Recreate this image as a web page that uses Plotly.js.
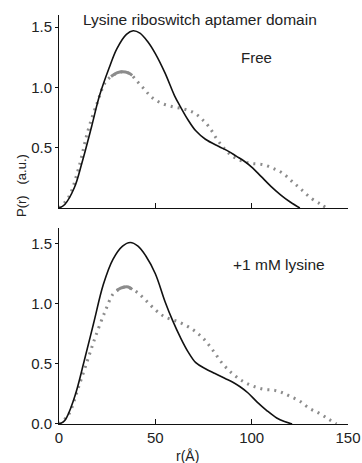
<!DOCTYPE html>
<html>
<head>
<meta charset="utf-8">
<script src="https://cdn.plot.ly/plotly-3.0.1.min.js"></script>
<style>html,body{margin:0;padding:0;background:#fff;}#chart{width:362px;height:463px;}</style>
</head>
<body>
<div id="chart"></div>
<script>
// Top panel (Free)
const freeSolidR = [0,3,8,12,17,21,26,30,35,38.5,42,46,50,55,60,63,67,71,76,83,88,92,96,100,105,110,115,120,125];
const freeSolidP = [0,0.03,0.17,0.38,0.68,0.93,1.16,1.32,1.44,1.47,1.45,1.38,1.28,1.12,0.93,0.84,0.73,0.64,0.57,0.51,0.47,0.43,0.39,0.34,0.26,0.18,0.11,0.05,0];
const freeDotR = [0,5,10,15,20,24,28,33,37,40,44,48,53,59,65,70,74,78,82,86,90,95,100,106,111,116,121,126,131,136,139];
const freeDotP = [0,0.09,0.32,0.64,0.88,1.04,1.10,1.13,1.11,1.06,0.99,0.92,0.87,0.84,0.82,0.79,0.74,0.67,0.57,0.49,0.43,0.39,0.37,0.36,0.33,0.29,0.22,0.15,0.08,0.03,0];
const freePeakR = [27,30,33,36,38];
const freePeakP = [1.09,1.12,1.13,1.12,1.10];

// Bottom panel (+1 mM lysine)
const lysSolidR = [0,3,8,13,18,23,28,33,37,41,45,50,55,59,63,67,71,76,81,86,90,94,98,103,108,113,117,121];
const lysSolidP = [0,0.03,0.22,0.52,0.84,1.16,1.37,1.48,1.51,1.48,1.40,1.25,1.02,0.86,0.72,0.60,0.51,0.46,0.42,0.38,0.35,0.31,0.26,0.18,0.11,0.05,0.02,0];
const lysDotR = [0,5,10,15,19,24,28,31,34,37,41,45,50,55,62,69,75,80,85,90,95,100,106,112,116,120,125,130,135,140,144];
const lysDotP = [0,0.08,0.30,0.54,0.73,0.94,1.08,1.12,1.14,1.13,1.09,1.03,0.95,0.89,0.85,0.79,0.71,0.61,0.50,0.42,0.36,0.32,0.29,0.28,0.26,0.23,0.19,0.13,0.09,0.04,0];
const lysPeakR = [30,32,34,36,38];
const lysPeakP = [1.11,1.13,1.14,1.14,1.12];

const xTicks = [0,50,100,150];
const xTickText = ['0','50','100','150'];
const yTicksTop = [0.5,1.0,1.5];
const yTicksBottom = [0,0.5,1.0,1.5];

const FONT = 'Liberation Sans, Arial, sans-serif';
const solidLine = {color:'#111', width:1.6, shape:'spline'};
const dotLine = {color:'#8c8c8c', width:3, dash:'2px,5px', shape:'spline'};
const peakLine = {color:'#8c8c8c', width:3, shape:'spline'};

const traces = [
  {x:freeDotR, y:freeDotP, xaxis:'x', yaxis:'y', mode:'lines', line:dotLine},
  {x:freePeakR, y:freePeakP, xaxis:'x', yaxis:'y', mode:'lines', line:peakLine},
  {x:freeSolidR, y:freeSolidP, xaxis:'x', yaxis:'y', mode:'lines', line:solidLine},
  {x:lysDotR, y:lysDotP, xaxis:'x2', yaxis:'y2', mode:'lines', line:dotLine},
  {x:lysPeakR, y:lysPeakP, xaxis:'x2', yaxis:'y2', mode:'lines', line:peakLine},
  {x:lysSolidR, y:lysSolidP, xaxis:'x2', yaxis:'y2', mode:'lines', line:solidLine}
];

const axisCommon = {showline:true, linecolor:'#111', linewidth:1, showgrid:false, zeroline:false,
  tickcolor:'#111', tickfont:{family:FONT, size:15, color:'#222'}};

const layout = {
  width:362, height:463,
  margin:{l:59, r:14, t:15, b:39},
  paper_bgcolor:'#fff', plot_bgcolor:'#fff',
  showlegend:false,
  font:{family:FONT, color:'#222'},
  xaxis: Object.assign({}, axisCommon, {domain:[0,1], range:[0,150], anchor:'y', tickmode:'array', tickvals:xTicks, showticklabels:false, ticks:'inside', ticklen:5}),
  yaxis: Object.assign({}, axisCommon, {domain:[0.528,1], range:[0,1.6], anchor:'x', tickmode:'array', tickvals:yTicksTop, ticktext:['0.5','1.0','1.5'], ticks:'outside', ticklen:3}),
  xaxis2: Object.assign({}, axisCommon, {domain:[0,1], range:[0,150], anchor:'y2', tickmode:'array', tickvals:xTicks, ticktext:xTickText, ticks:'inside', ticklen:5}),
  yaxis2: Object.assign({}, axisCommon, {domain:[0,0.479], range:[0,1.63], anchor:'x2', tickmode:'array', tickvals:yTicksBottom, ticktext:['0.0','0.5','1.0','1.5'], ticks:'outside', ticklen:3}),
  annotations:[
    {text:'Lysine riboswitch aptamer domain', xref:'paper', yref:'paper', x:0.488, y:0.988, xanchor:'center', yanchor:'middle', showarrow:false, font:{family:FONT, size:15.5, color:'#222'}},
    {text:'Free', xref:'paper', yref:'paper', x:0.685, y:0.897, xanchor:'center', yanchor:'middle', showarrow:false, font:{family:FONT, size:15, color:'#222'}},
    {text:'+1 mM lysine', xref:'paper', yref:'paper', x:0.761, y:0.389, xanchor:'center', yanchor:'middle', showarrow:false, font:{family:FONT, size:15.5, color:'#222'}},
    {text:'r(Å)', xref:'paper', yref:'paper', x:0.446, y:-0.078, xanchor:'center', yanchor:'middle', showarrow:false, font:{family:FONT, size:14, color:'#222'}},
    {text:'P(r)&nbsp;&nbsp;&nbsp;(a.u.)', xref:'paper', yref:'paper', x:-0.128, y:0.582, xanchor:'center', yanchor:'middle', textangle:-90, showarrow:false, font:{family:FONT, size:13, color:'#222'}}
  ]
};

Plotly.newPlot('chart', traces, layout, {staticPlot:true, displayModeBar:false});
</script>
</body>
</html>
